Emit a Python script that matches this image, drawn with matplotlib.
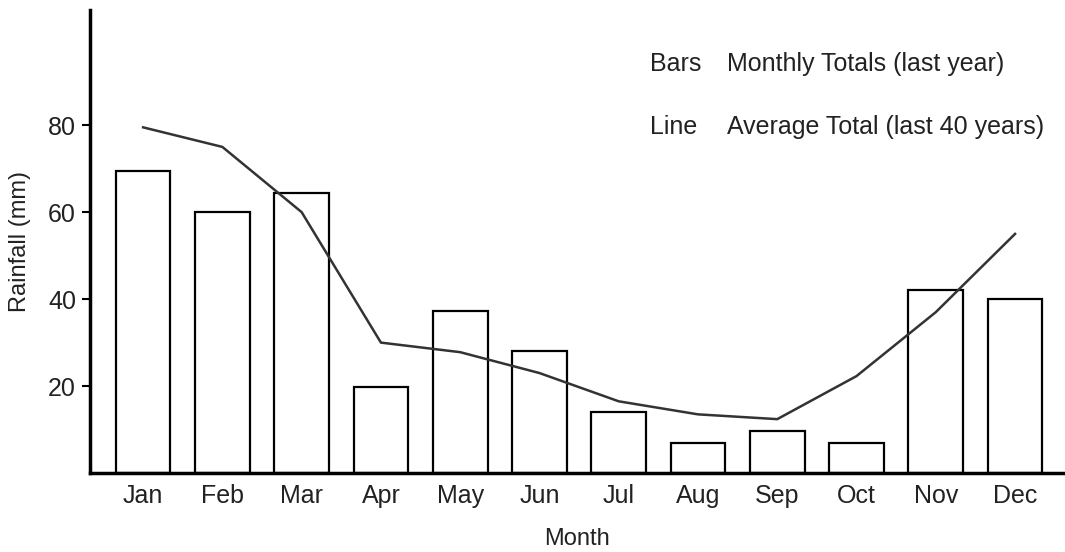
import matplotlib
matplotlib.use("Agg")
import matplotlib.pyplot as plt

plt.rcParams['font.family'] = ['Liberation Sans', 'DejaVu Sans']

months = ["Jan", "Feb", "Mar", "Apr", "May", "Jun",
          "Jul", "Aug", "Sep", "Oct", "Nov", "Dec"]
monthly_totals = [69.5, 60, 64.5, 19.8, 37.2, 28, 14, 7, 9.7, 7, 42.2, 40]
average_totals = [79.5, 75, 60, 30, 27.8, 23, 16.5, 13.5, 12.4, 22.3, 37, 55]

fig = plt.figure(figsize=(10.65, 5.52), dpi=100)
ax = fig.add_axes([0.0845, 0.143, 0.9155, 0.839])

x = range(len(months))
ax.bar(x, monthly_totals, width=0.69, color="white", edgecolor="black", linewidth=1.6)
ax.plot(x, average_totals, color="#333333", linewidth=1.8)

ax.set_xlim(-0.67, 11.63)
ax.set_ylim(0, 106.5)
ax.set_xticks(list(x))
ax.set_xticklabels(months, fontsize=18, color="#222222")
ax.set_yticks([20, 40, 60, 80])
ax.tick_params(axis="x", length=0, pad=8)
ax.tick_params(axis="y", length=6, width=1.5, labelsize=18, labelcolor="#222222", pad=4)

for s in ["top", "right"]:
    ax.spines[s].set_visible(False)
for s in ["left", "bottom"]:
    ax.spines[s].set_linewidth(2.5)

ax.set_xlabel("Month", fontsize=17, color="#222222", labelpad=14)
ax.set_ylabel("Rainfall (mm)", fontsize=17, color="#222222", labelpad=12)

# legend as text
fig.text(650 / 1065, 1 - 64 / 552, "Bars", fontsize=18, color="#222222", va="center")
fig.text(727 / 1065, 1 - 64 / 552, "Monthly Totals (last year)", fontsize=18, color="#222222", va="center")
fig.text(650 / 1065, 1 - 127 / 552, "Line", fontsize=18, color="#222222", va="center")
fig.text(727 / 1065, 1 - 127 / 552, "Average Total (last 40 years)", fontsize=18, color="#222222", va="center")

fig.savefig("out.png", dpi=100)
